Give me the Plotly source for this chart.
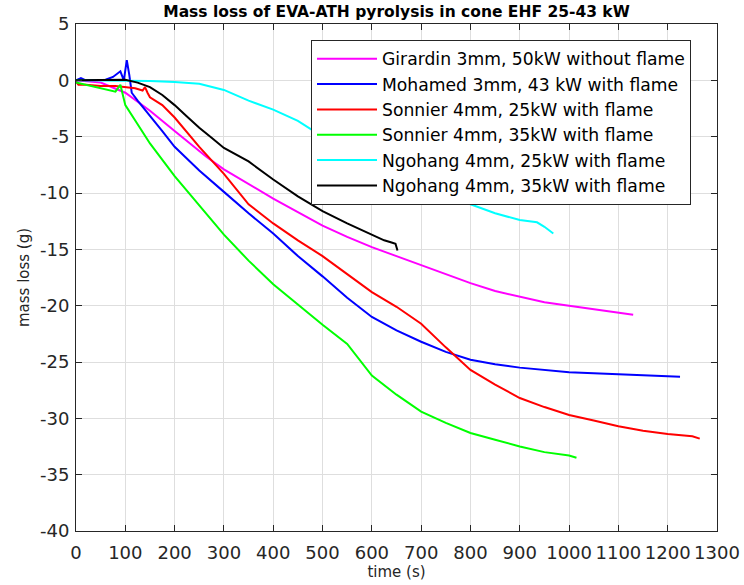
import plotly.graph_objects as go

# values
girardin_t = [0, 50, 100, 150, 200, 265, 300, 350, 400, 450, 500, 550, 600, 650, 700,
              750, 800, 850, 900, 950, 1000, 1050, 1100, 1130]
girardin_m = [0, -0.2, -1.1, -2.7, -4.5, -6.8, -7.9, -9.2, -10.5, -11.7, -12.9, -13.9,
              -14.8, -15.6, -16.4, -17.2, -18.0, -18.7, -19.2, -19.7, -20.0, -20.3, -20.6, -20.8]

mohamed_t = [0, 10, 20, 40, 60, 75, 90, 97, 103, 108, 113, 125, 150, 175, 200, 250, 300,
             350, 400, 450, 500, 550, 600, 650, 700, 750, 800, 850, 900, 950, 1000,
             1050, 1100, 1150, 1200, 1225]
mohamed_m = [0, 0.2, 0, 0.05, 0.05, 0.3, 0.8, 0, 1.8, 0.5, -1.1, -1.8, -3.1, -4.5, -5.9,
             -8.0, -9.9, -11.8, -13.6, -15.6, -17.4, -19.3, -21.0, -22.2, -23.2, -24.1,
             -24.8, -25.2, -25.5, -25.7, -25.9, -26.0, -26.1, -26.2, -26.3, -26.3]

sonnier25_t = [0, 5, 20, 50, 80, 100, 120, 135, 140, 145, 150, 175, 200, 250, 300, 350,
               400, 450, 500, 550, 600, 650, 700, 750, 800, 850, 900, 950, 1000, 1050,
               1100, 1150, 1200, 1250, 1265]
sonnier25_m = [-0.1, -0.4, -0.4, -0.5, -0.5, -0.6, -0.7, -0.9, -0.6, -1.1, -1.5, -2.2,
               -3.3, -5.9, -8.3, -11.0, -12.7, -14.2, -15.6, -17.2, -18.8, -20.1, -21.6,
               -23.7, -25.7, -27.0, -28.2, -29.0, -29.7, -30.2, -30.7, -31.1, -31.4,
               -31.6, -31.8]

sonnier35_t = [0, 20, 40, 60, 80, 90, 95, 100, 125, 150, 200, 250, 300, 350, 400, 450,
               500, 550, 575, 600, 650, 700, 750, 800, 850, 900, 950, 1000, 1015]
sonnier35_m = [-0.2, -0.4, -0.6, -0.8, -1.0, -0.4, -1.2, -2.2, -3.9, -5.6, -8.5, -11.1,
               -13.7, -16.0, -18.1, -19.9, -21.7, -23.4, -24.8, -26.2, -27.9, -29.4, -30.4,
               -31.3, -31.9, -32.5, -33.0, -33.3, -33.5]

ngohang25_t = [0, 50, 100, 150, 200, 250, 300, 350, 400, 450, 500, 550, 600, 650, 700,
               750, 800, 850, 900, 935, 950, 968]
ngohang25_m = [0, 0, 0, -0.05, -0.15, -0.3, -0.85, -1.8, -2.6, -3.6, -5.0, -6.2, -7.3,
               -8.4, -9.4, -10.4, -11.0, -11.8, -12.4, -12.6, -13.0, -13.6]

ngohang35_t = [0, 50, 100, 125, 150, 175, 200, 225, 250, 275, 300, 350, 400, 450, 500,
               550, 600, 625, 640, 648, 652]
ngohang35_m = [0, 0.05, 0.05, -0.2, -0.6, -1.3, -2.2, -3.2, -4.2, -5.1, -6.0, -7.2,
               -8.8, -10.3, -11.6, -12.7, -13.7, -14.2, -14.4, -14.5, -15.1]

series = [
    ("Girardin 3mm, 50kW without flame", girardin_t, girardin_m, "#ff00ff"),
    ("Mohamed 3mm, 43 kW with flame", mohamed_t, mohamed_m, "#0000ff"),
    ("Sonnier 4mm, 25kW with flame", sonnier25_t, sonnier25_m, "#ff0000"),
    ("Sonnier 4mm, 35kW with flame", sonnier35_t, sonnier35_m, "#00ff00"),
    ("Ngohang 4mm, 25kW with flame", ngohang25_t, ngohang25_m, "#00ffff"),
    ("Ngohang 4mm, 35kW with flame", ngohang35_t, ngohang35_m, "#000000"),
]

x_ticks = list(range(0, 1301, 100))
y_ticks = list(range(-40, 6, 5))
y_tick_labels = [str(v) for v in y_ticks]  # plain hyphen, as in the reference

FONT = "DejaVu Sans"
AX = "#262626"

fig = go.Figure()
for name, t, m, col in series:
    fig.add_trace(go.Scatter(x=t, y=m, mode="lines", name=name,
                             line=dict(color=col, width=2)))

axis_style = dict(showline=True, linecolor=AX, linewidth=1, mirror="ticks",
                  ticks="inside", ticklen=6, tickcolor=AX, automargin=False,
                  showgrid=True, gridcolor="#dedede", gridwidth=1,
                  zeroline=False, tickfont=dict(family=FONT, size=18, color=AX))

fig.update_xaxes(range=[0, 1300], tickvals=x_ticks, ticklabelstandoff=5,
                 title=dict(text="time (s)", font=dict(family=FONT, size=15, color=AX),
                            standoff=4),
                 **axis_style)
fig.update_yaxes(range=[-40, 5], tickvals=y_ticks, ticktext=y_tick_labels,
                 ticklabelstandoff=2,
                 title=dict(text="mass loss (g)", font=dict(family=FONT, size=15, color=AX),
                            standoff=6),
                 **axis_style)

fig.update_layout(
    width=744, height=585,
    margin=dict(l=76, r=27, t=24, b=54),
    paper_bgcolor="white", plot_bgcolor="white",
    title=dict(text="<b>Mass loss of EVA-ATH pyrolysis in cone EHF 25-43 kW</b>",
               x=396.5 / 744, xanchor="center", y=1 - 12 / 585, yanchor="middle",
               font=dict(family=FONT, size=15.5, color="black")),
    legend=dict(x=(311 - 76) / 641, y=(531 - 40) / 507, xanchor="left", yanchor="top",
                bgcolor="white", bordercolor=AX, borderwidth=1,
                font=dict(family=FONT, size=17.2, color="black"),
                itemwidth=60, tracegroupgap=0),
    showlegend=True,
)

# drop the browser's default body margin so the figure sits at the page corner
fig.write_html("out.html", config={"displayModeBar": False},
               post_script="document.body.style.margin='0';")
